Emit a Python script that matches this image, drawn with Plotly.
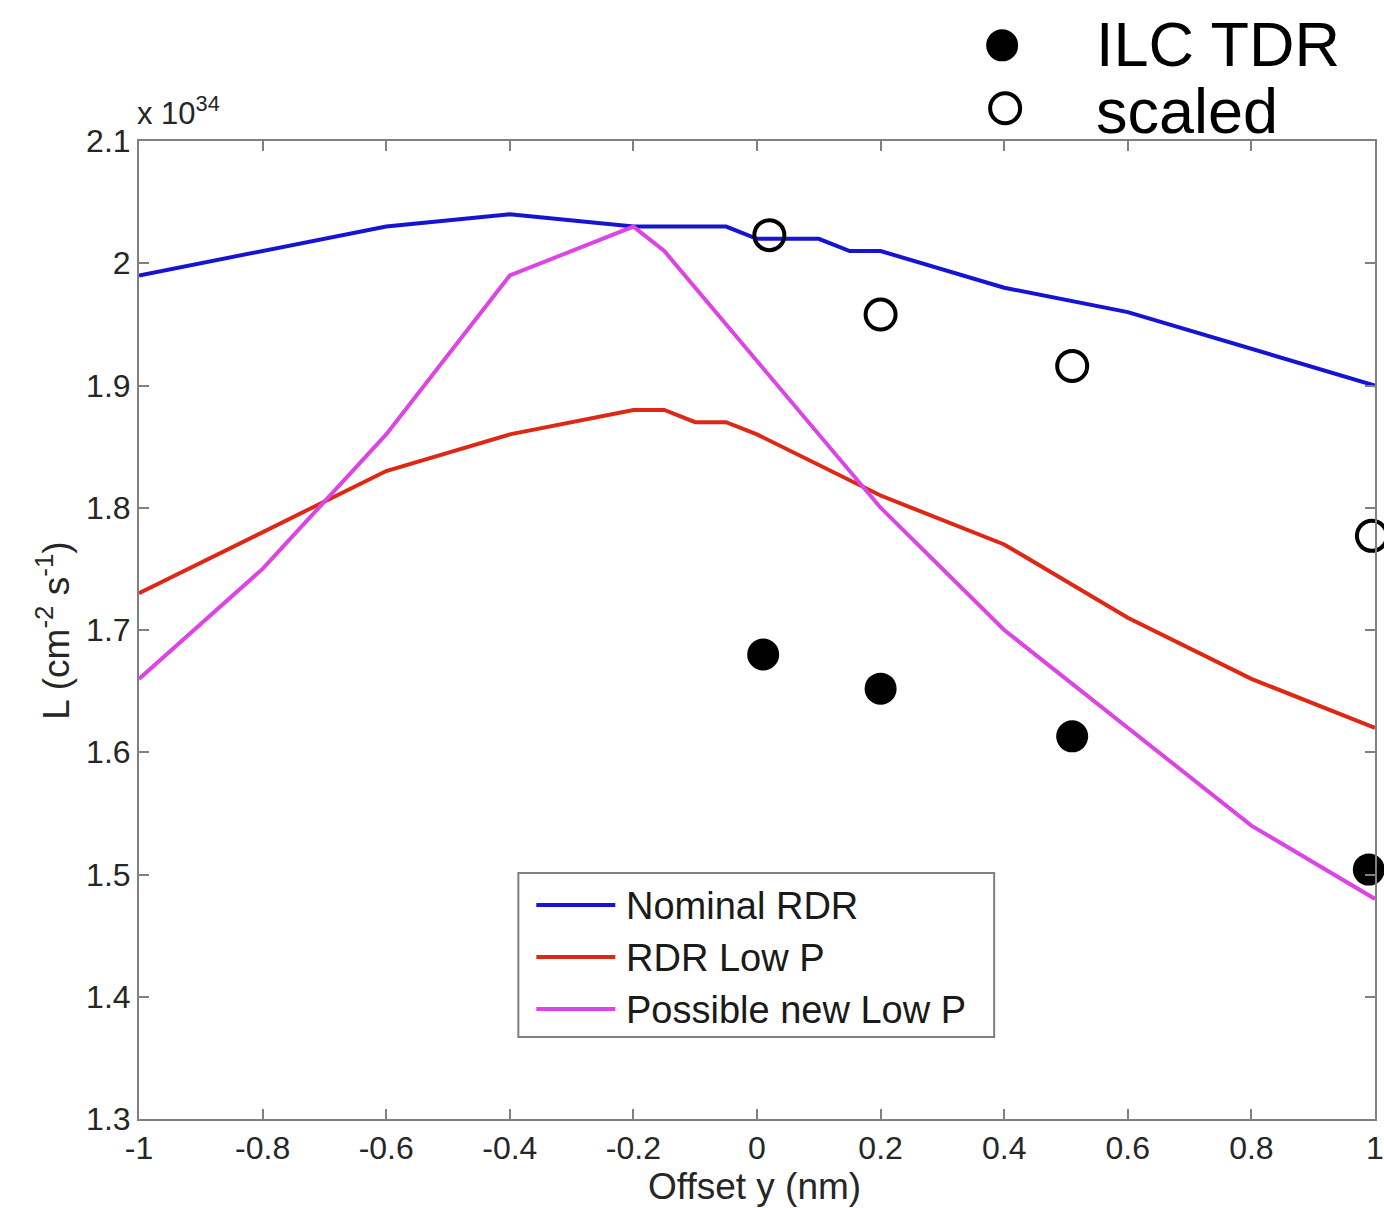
import plotly.graph_objects as go

# Luminosity vs. vertical offset (units of 1e34 cm^-2 s^-1)
offset_nominal = [-1.0, -0.8, -0.6, -0.4, -0.2, -0.05, 0.0, 0.1, 0.15, 0.2, 0.4, 0.6, 0.8, 1.0]
lum_nominal = [1.99, 2.01, 2.03, 2.04, 2.03, 2.03, 2.02, 2.02, 2.01, 2.01, 1.98, 1.96, 1.93, 1.90]

offset_lowp = [-1.0, -0.8, -0.6, -0.4, -0.2, -0.15, -0.1, -0.05, 0.0, 0.2, 0.4, 0.6, 0.8, 1.0]
lum_lowp = [1.73, 1.78, 1.83, 1.86, 1.88, 1.88, 1.87, 1.87, 1.86, 1.81, 1.77, 1.71, 1.66, 1.62]

offset_newp = [-1.0, -0.8, -0.6, -0.4, -0.2, -0.15, 0.0, 0.2, 0.4, 0.6, 0.8, 1.0]
lum_newp = [1.66, 1.75, 1.86, 1.99, 2.03, 2.01, 1.92, 1.80, 1.70, 1.62, 1.54, 1.48]

offset_tdr = [0.01, 0.2, 0.51, 0.99]
lum_tdr = [1.68, 1.652, 1.613, 1.504]

offset_scaled = [0.02, 0.2, 0.51, 0.995]
lum_scaled = [2.023, 1.958, 1.916, 1.777]

x_ticks = [-1, -0.8, -0.6, -0.4, -0.2, 0, 0.2, 0.4, 0.6, 0.8, 1]
x_tick_text = ["-1", "-0.8", "-0.6", "-0.4", "-0.2", "0", "0.2", "0.4", "0.6", "0.8", "1"]
y_ticks = [1.3, 1.4, 1.5, 1.6, 1.7, 1.8, 1.9, 2.0, 2.1]
y_tick_text = ["1.3", "1.4", "1.5", "1.6", "1.7", "1.8", "1.9", "2", "2.1"]

series_names = ["Nominal RDR", "RDR Low P", "Possible new Low P"]
series_colors = ["#1414d2", "#de2814", "#dc44e6"]

W, H = 1384, 1208
ML, MR, MT, MB = 138.5, 9, 140.7, 89
PW, PH = W - ML - MR, H - MT - MB


def px(xp):
    return (xp - ML) / PW


def py(yp):
    return (H - MB - yp) / PH


FONT = "Liberation Sans, Arial, Helvetica, sans-serif"
AXIS_GREY = "#808080"
TEXT_DARK = "#262626"

fig = go.Figure()

for xs, ys, name, color in zip(
    [offset_nominal, offset_lowp, offset_newp],
    [lum_nominal, lum_lowp, lum_newp],
    series_names,
    series_colors,
):
    fig.add_trace(go.Scatter(x=xs, y=ys, mode="lines", name=name,
                             line=dict(color=color, width=4), showlegend=False))

fig.add_trace(go.Scatter(x=offset_scaled, y=lum_scaled, mode="markers", name="scaled",
                         marker=dict(symbol="circle-open", size=30, color="black",
                                     line=dict(width=4, color="black")),
                         cliponaxis=False, showlegend=False))
fig.add_trace(go.Scatter(x=offset_tdr, y=lum_tdr, mode="markers", name="ILC TDR",
                         marker=dict(symbol="circle", size=32, color="black"),
                         cliponaxis=False, showlegend=False))

shapes = []
annotations = []

# boxed legend for the three curves
shapes.append(dict(type="rect", xref="paper", yref="paper",
                   x0=px(518), x1=px(994), y0=py(1037), y1=py(873),
                   line=dict(color=AXIS_GREY, width=2), fillcolor="white", layer="below"))
for i, (name, color) in enumerate(zip(series_names, series_colors)):
    yy = 905 + 52 * i
    shapes.append(dict(type="line", xref="paper", yref="paper",
                       x0=px(536), x1=px(615), y0=py(yy), y1=py(yy),
                       line=dict(color=color, width=4)))
    annotations.append(dict(text=name, xref="paper", yref="paper", x=px(624), y=py(yy + 1),
                            xanchor="left", yanchor="middle", showarrow=False,
                            font=dict(family=FONT, size=38, color="#1a1a1a")))

# marker key above the frame
shapes.append(dict(type="circle", xref="paper", yref="paper", xsizemode="pixel", ysizemode="pixel",
                   xanchor=px(1002), yanchor=py(45), x0=-16, x1=16, y0=-16, y1=16,
                   fillcolor="black", line=dict(color="black", width=0)))
shapes.append(dict(type="circle", xref="paper", yref="paper", xsizemode="pixel", ysizemode="pixel",
                   xanchor=px(1005), yanchor=py(108), x0=-15, x1=15, y0=-15, y1=15,
                   fillcolor="rgba(0,0,0,0)", line=dict(color="black", width=4)))
annotations.append(dict(text="ILC TDR", xref="paper", yref="paper", x=px(1094), y=py(44),
                        xanchor="left", yanchor="middle", showarrow=False,
                        font=dict(family=FONT, size=63, color="black")))
annotations.append(dict(text="scaled", xref="paper", yref="paper", x=px(1094), y=py(111),
                        xanchor="left", yanchor="middle", showarrow=False,
                        font=dict(family=FONT, size=63, color="black")))

# exponent and axis titles
annotations.append(dict(text="x 10<sup>34</sup>", xref="paper", yref="paper", x=px(134), y=py(133),
                        xanchor="left", yanchor="bottom", showarrow=False,
                        font=dict(family=FONT, size=31, color=TEXT_DARK)))
annotations.append(dict(text="Offset y (nm)", xref="paper", yref="paper", x=px(754), y=py(1187),
                        xanchor="center", yanchor="middle", showarrow=False,
                        font=dict(family=FONT, size=37, color=TEXT_DARK)))
annotations.append(dict(text="L (cm<sup>-2</sup> s<sup>-1</sup>)", xref="paper", yref="paper",
                        x=px(53), y=py(631), xanchor="center", yanchor="middle", textangle=-90,
                        showarrow=False, font=dict(family=FONT, size=37, color=TEXT_DARK)))

axis_common = dict(showline=True, linecolor=AXIS_GREY, linewidth=2, mirror="ticks",
                   ticks="inside", ticklen=10, tickwidth=2, tickcolor=AXIS_GREY,
                   showgrid=False, zeroline=False,
                   tickfont=dict(family=FONT, size=32, color=TEXT_DARK))

fig.update_layout(
    width=W, height=H,
    margin=dict(l=ML, r=MR, t=MT, b=MB, autoexpand=False),
    paper_bgcolor="white", plot_bgcolor="white",
    xaxis=dict(range=[-1, 1], tickvals=x_ticks, ticktext=x_tick_text, **axis_common),
    yaxis=dict(range=[1.3, 2.1], tickvals=y_ticks, ticktext=y_tick_text, **axis_common),
    shapes=shapes,
    annotations=annotations,
    showlegend=False,
)

fig.write_html("out.html")
